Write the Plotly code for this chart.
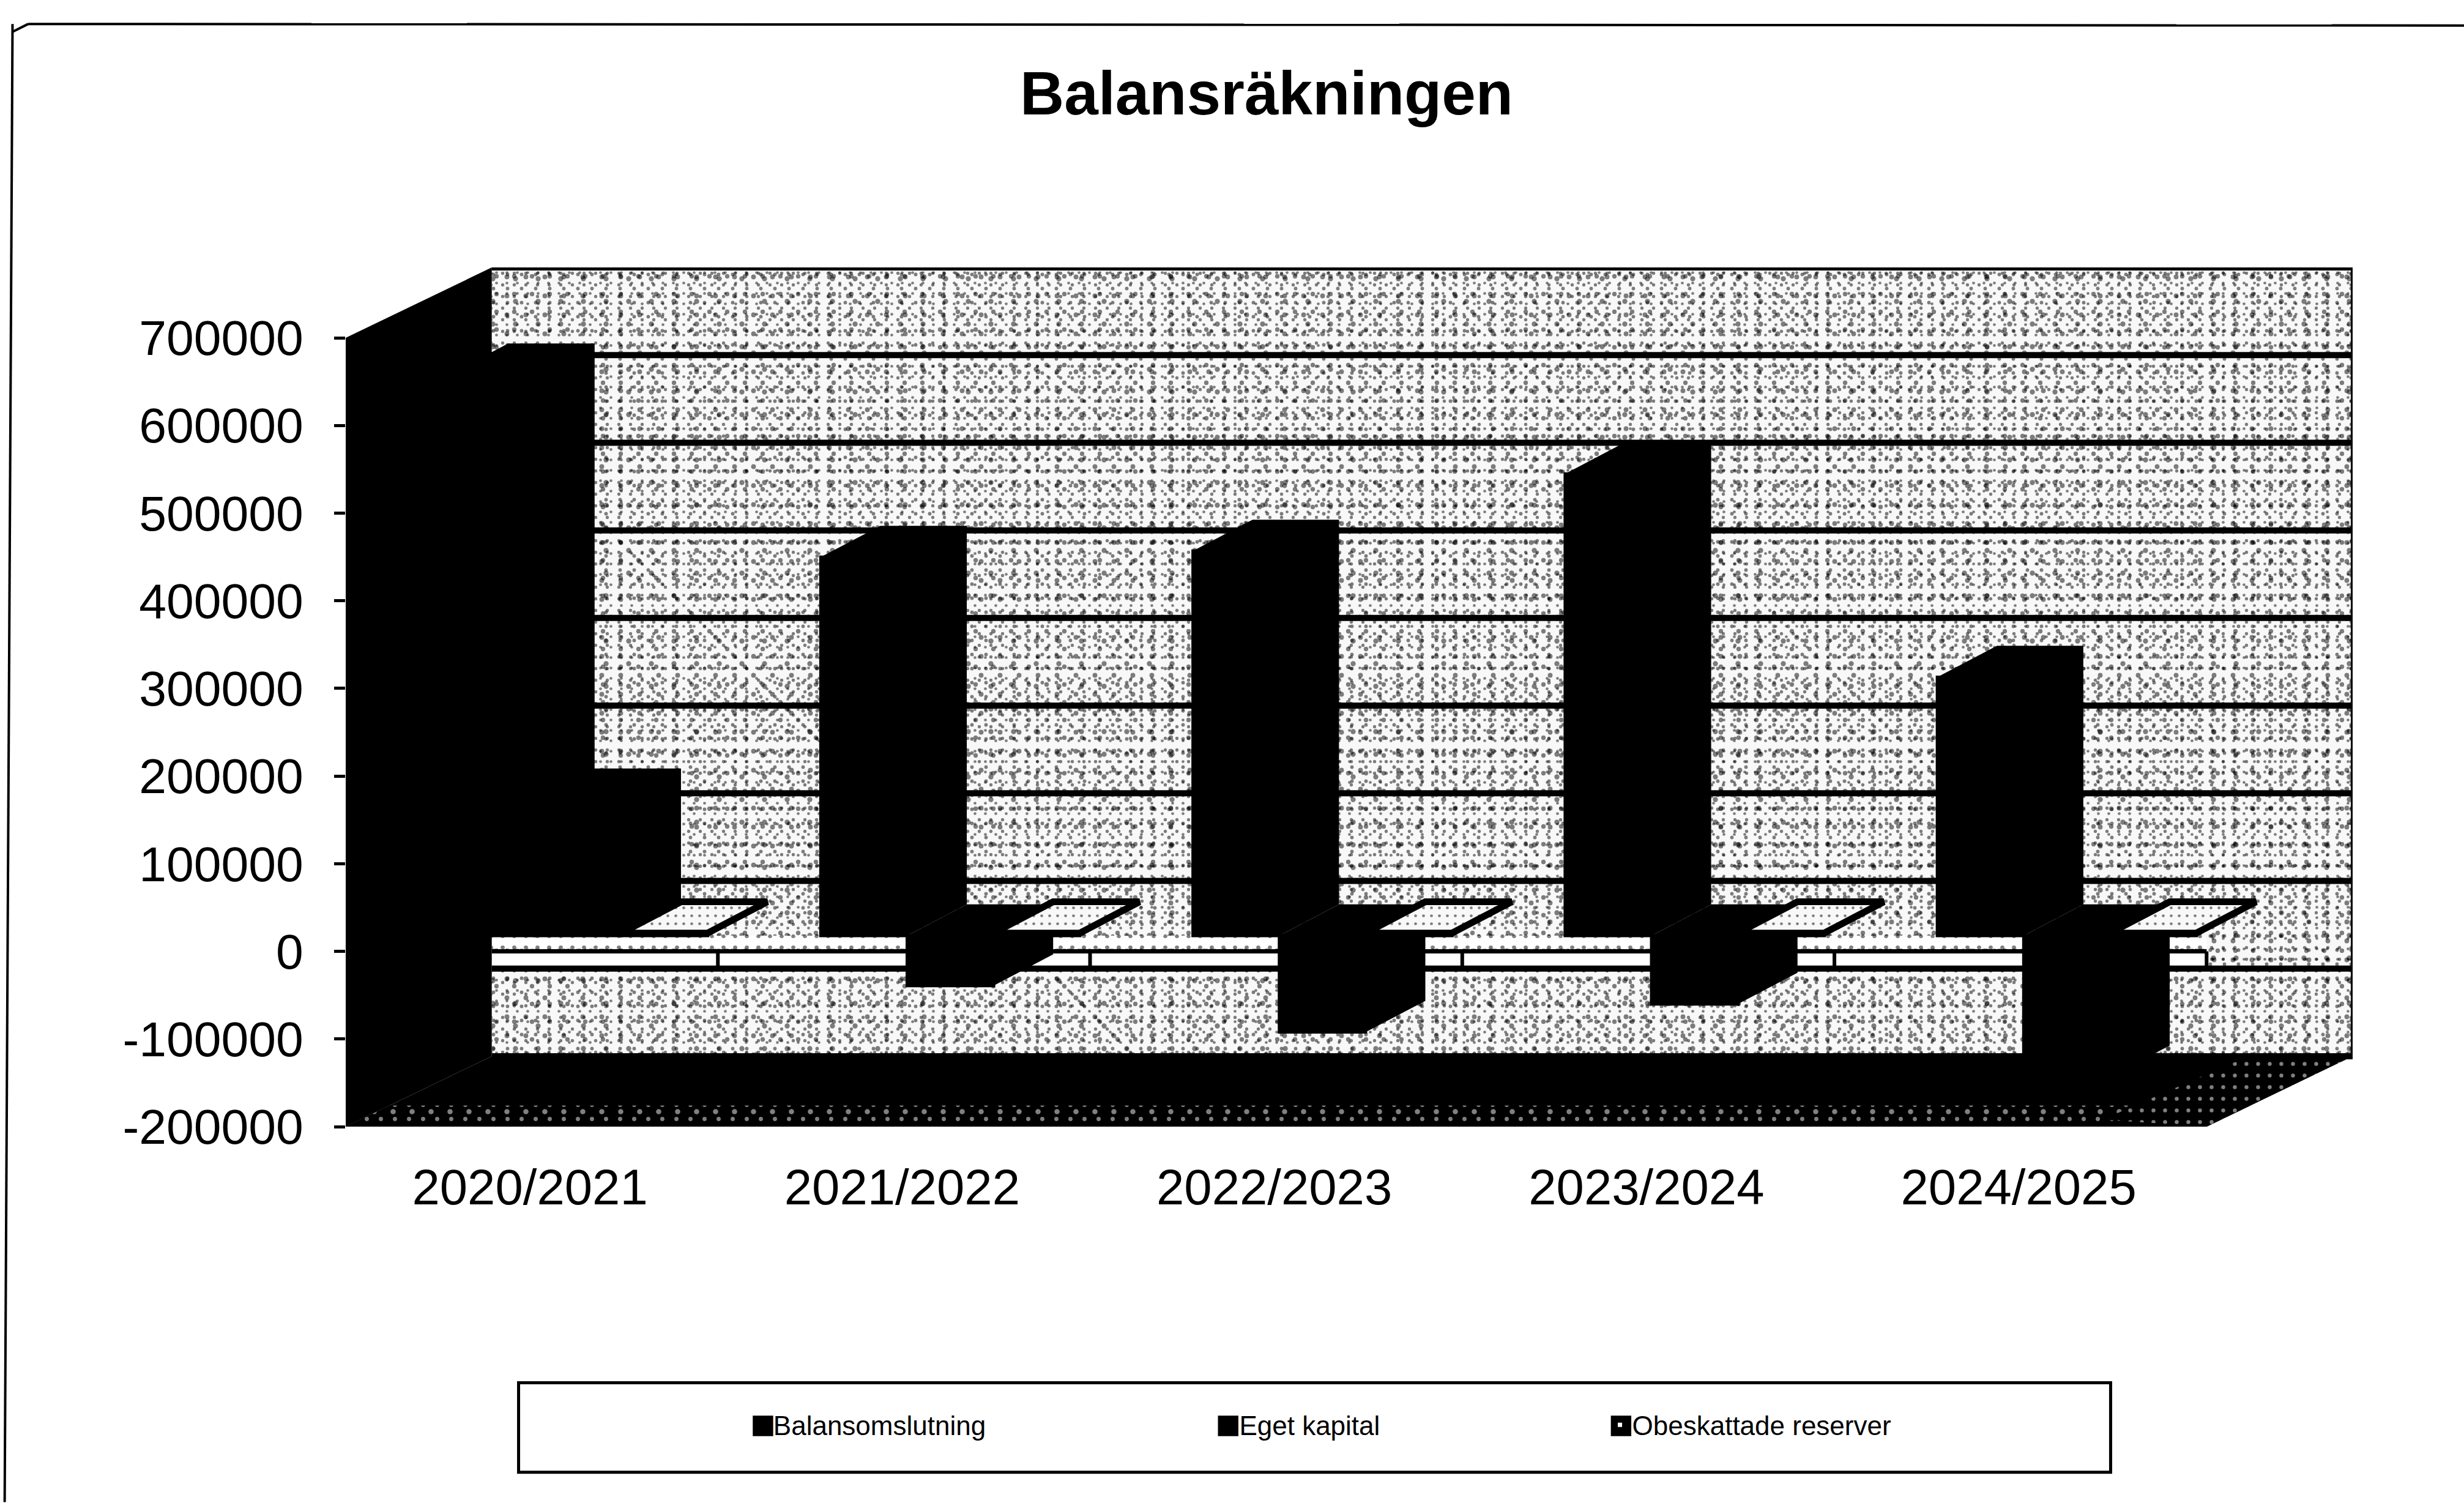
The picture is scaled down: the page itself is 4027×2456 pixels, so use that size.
import plotly.graph_objects as go

# ---- data -------------------------------------------------------------
categories = ["2020/2021", "2021/2022", "2022/2023", "2023/2024", "2024/2025"]
balansomslutning = [640000, 432000, 439000, 527000, 295000]
eget_kapital = [155000, -57000, -110000, -78000, -161000]
obeskattade_reserver = [3000, 3000, 3000, 3000, 3000]
series_names = ["Balansomslutning", "Eget kapital", "Obeskattade reserver"]
y_ticks = [-200000, -100000, 0, 100000, 200000, 300000, 400000, 500000, 600000, 700000]

# ---- geometry ----------------------------------------------------------
W, H = 4027, 2456
S = 4027 / 1568
PL, PR, PT, PB = 220 * S, 1497 * S, 170 * S, 717 * S
UNIT_X = 237.0          # shrunk px per category
UNIT_Y = 56.0 / 100000  # shrunk px per value unit
DX = 93 / UNIT_X
DY = 45 / UNIT_Y
YMIN, YMAX = y_ticks[0], y_ticks[-1]
BAR_W = 55 / UNIT_X
BAR_OFF = -53 / UNIT_X
BAR_DX = 38 / UNIT_X
BAR_DY = 20 / UNIT_Y
BAR_BASE = 10 / UNIT_Y


def xp(px):
    return (px * S - PL) / (PR - PL)


def yp(px):
    return (PB - px * S) / (PB - PT)


fig = go.Figure()


def poly(xs, ys, fill="black", line=None, lw=0, pattern=None, axes=("x", "y")):
    kw = {}
    if pattern:
        kw["fillpattern"] = pattern
    fig.add_trace(go.Scatter(
        x=list(xs) + [xs[0]], y=list(ys) + [ys[0]], mode="lines", fill="toself",
        fillcolor=fill, line=dict(color=line or "rgba(0,0,0,0)", width=lw),
        showlegend=False, hoverinfo="skip", xaxis=axes[0], yaxis=axes[1], **kw))


def seg(x0, y0, x1, y1, lw):
    fig.add_trace(go.Scatter(x=[x0, x1], y=[y0, y1], mode="lines",
                             line=dict(color="black", width=lw),
                             showlegend=False, hoverinfo="skip"))


n = len(categories)
wx = [DX, 5 + DX, 5 + DX, DX]
wy = [YMIN + DY, YMIN + DY, YMAX + DY, YMAX + DY]

# back wall: layered dot stipple with incommensurate periods
poly(wx, wy, fill="#f8f8f8")
for size, sol in [(17, 0.06), (19, 0.06), (23, 0.05), (29, 0.05), (31, 0.05), (37, 0.04)]:
    poly(wx, wy, fill="rgba(0,0,0,0)", pattern=dict(shape=".", size=size, solidity=sol, fgcolor="black",
                                                    bgcolor="rgba(0,0,0,0)", fillmode="overlay"))

# strips around the zero plane
poly([DX, 5, 5, DX], [0, 0, -DY * 0.245, -DY * 0.245], fill="white")
poly([DX, 5, 5, DX], [3000, 3000, BAR_BASE, BAR_BASE], fill="white",
     pattern=dict(shape=".", size=19, solidity=0.10, fgcolor="black", bgcolor="white", fillmode="overlay"))

# gridlines on the wall
for t in y_ticks:
    seg(DX, t + DY, 5 + DX, t + DY, 10)
seg(5 + DX, YMIN + DY, 5 + DX, YMAX + DY, 6)

# left wall + floor
poly([0, DX, DX, 0], [YMIN, YMIN + DY, YMAX + DY, YMAX], fill="black")
poly([0, 5, 5 + DX, DX], [YMIN, YMIN, YMIN + DY, YMIN + DY], fill="black")
# speckle on floor, front strip and right corner
poly([0, 5, 5 + DX * 0.3, DX * 0.3], [YMIN, YMIN, YMIN + DY * 0.3, YMIN + DY * 0.3], fill="black",
     pattern=dict(shape=".", size=23, solidity=0.07, fgcolor="white", bgcolor="black", fillmode="overlay"))
poly([0, 5, 5 + DX * 0.3, DX * 0.3], [YMIN, YMIN, YMIN + DY * 0.3, YMIN + DY * 0.3], fill="rgba(0,0,0,0)",
     pattern=dict(shape=".", size=31, solidity=0.06, fgcolor="white", bgcolor="rgba(0,0,0,0)", fillmode="overlay"))
poly([4.72, 5, 5 + DX, 4.72 + DX], [YMIN + DY * 0.1, YMIN, YMIN + DY, YMIN + DY * 1.0], fill="black",
     pattern=dict(shape=".", size=19, solidity=0.09, fgcolor="white", bgcolor="black", fillmode="overlay"))

# category axis at zero
seg(DX, 0, 5, 0, 7)
for i in range(1, n + 1):
    seg(i, 0, i, -DY * 0.27, 6)

# ---- bars (overlay axes so they sit above the walls) -------------------
all_series = [balansomslutning, eget_kapital, obeskattade_reserver]
for j, (name, vals) in enumerate(zip(series_names, all_series)):
    xc = [i + 0.5 + BAR_OFF + (j + 0.5) * BAR_W for i in range(n)]
    white = j == 2
    fig.add_trace(go.Bar(
        x=xc, y=vals, base=BAR_BASE, width=BAR_W, name=name,
        marker=dict(color="white" if white else "black", line=dict(color="black", width=5)),
        xaxis="x2", yaxis="y2",
        legend="legend" if j == 0 else f"legend{j + 1}",
        showlegend=True))

for j, vals in enumerate(all_series):
    for i, v in enumerate(vals):
        xl = i + 0.5 + BAR_OFF + j * BAR_W
        xr = xl + BAR_W
        hi, lo = max(BAR_BASE, BAR_BASE + v), min(BAR_BASE, BAR_BASE + v)
        poly([xl, xl + BAR_DX, xr + BAR_DX, xr + BAR_DX, xr, xl],
             [hi, hi + BAR_DY, hi + BAR_DY, lo + BAR_DY, lo, lo], fill="black", axes=("x2", "y2"))
for j, vals in [(2, obeskattade_reserver)]:
    for i, v in enumerate(vals):
        xl = i + 0.5 + BAR_OFF + j * BAR_W
        xr = xl + BAR_W
        hi = BAR_BASE + v
        poly([xl, xl + BAR_DX, xr + BAR_DX, xr], [hi, hi + BAR_DY, hi + BAR_DY, hi],
             fill="#f4f4f4", line="black", lw=11, axes=("x2", "y2"),
             pattern=dict(shape=".", size=13, solidity=0.1, fgcolor="black", bgcolor="#f8f8f8", fillmode="overlay"))

# ---- layout ------------------------------------------------------------
xrange_ = [0, 5 + DX]
yrange_ = [YMIN, YMAX + DY]
FONT = "Liberation Sans, Arial, sans-serif"


def leg(px_x):
    return dict(x=xp(px_x), y=yp(907), xanchor="left", yanchor="middle", orientation="h",
                bgcolor="rgba(0,0,0,0)", borderwidth=0, font=dict(size=44, family=FONT, color="black"),
                itemclick=False, itemdoubleclick=False)


swatches = [(479, False), (775, False), (1025, True)]
shapes = [
    dict(type="rect", xref="paper", yref="paper", x0=xp(330), x1=xp(1343), y0=yp(937), y1=yp(880),
         line=dict(color="black", width=5), fillcolor="white", layer="below"),
    dict(type="line", xref="paper", yref="paper", x0=xp(18), x1=xp(1568), y0=yp(15), y1=yp(16),
         line=dict(color="black", width=4)),
    dict(type="line", xref="paper", yref="paper", x0=xp(8), x1=xp(3), y0=yp(15), y1=yp(956),
         line=dict(color="black", width=4)),
    dict(type="line", xref="paper", yref="paper", x0=xp(8), x1=xp(18), y0=yp(20), y1=yp(15),
         line=dict(color="black", width=4)),
]
for sx, hollow in swatches:
    shapes.append(dict(type="rect", xref="paper", yref="paper", x0=xp(sx), x1=xp(sx + 13),
                       y0=yp(914), y1=yp(901), line=dict(color="black", width=0),
                       fillcolor="black", layer="below"))

fig.update_layout(
    width=W, height=H, autosize=False,
    margin=dict(l=PL, r=W - PR, t=PT, b=H - PB, pad=0),
    paper_bgcolor="white", plot_bgcolor="white",
    barmode="overlay",
    font=dict(family=FONT, color="black"),
    title=dict(text="<b>Balansräkningen</b>", font=dict(size=100, family=FONT, color="black"),
               x=806 / 1568, xref="container", xanchor="center",
               y=1 - 59 * S / H, yref="container", yanchor="middle"),
    xaxis=dict(range=xrange_, tickmode="array", tickvals=[i + 0.495 for i in range(n)], ticktext=categories,
               ticks="outside", ticklen=1, tickcolor="white", showgrid=False, zeroline=False, showline=False,
               tickfont=dict(size=81.5, family=FONT, color="black"), ticklabelstandoff=27, fixedrange=True),
    yaxis=dict(range=yrange_, tickmode="array", tickvals=y_ticks, ticktext=[str(t) for t in y_ticks],
               ticks="outside", ticklen=18, tickwidth=5, tickcolor="black", showgrid=False, zeroline=False,
               showline=False, tickfont=dict(size=80.5, family=FONT, color="black"), ticklabelstandoff=34,
               fixedrange=True),
    xaxis2=dict(range=xrange_, overlaying="x", visible=False, fixedrange=True),
    yaxis2=dict(range=yrange_, overlaying="y", visible=False, fixedrange=True),
    legend=leg(476.5), legend2=leg(773), legend3=leg(1023),
    shapes=shapes,
)

fig.write_html("out.html", post_script="document.body.style.margin='0';",
               config=dict(displayModeBar=False))
